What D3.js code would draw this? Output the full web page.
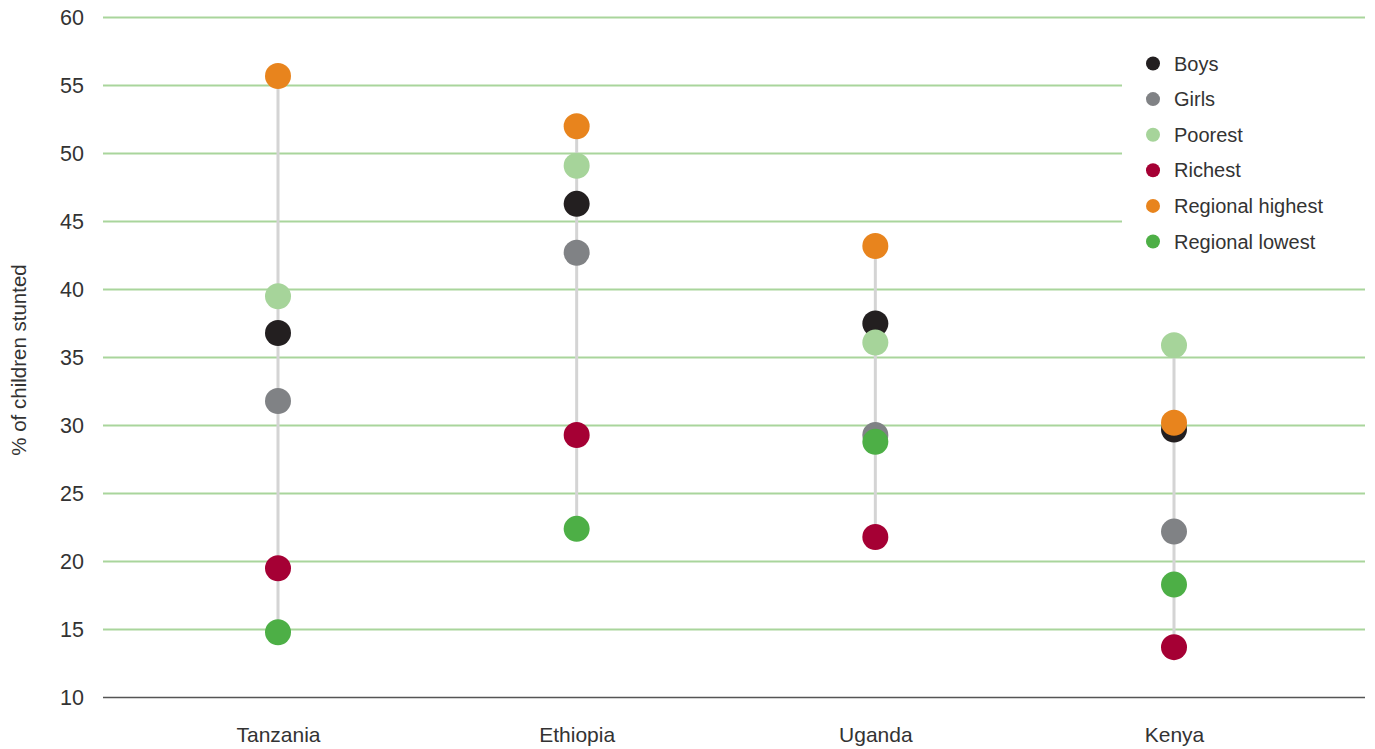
<!DOCTYPE html>
<html><head><meta charset="utf-8">
<script src="https://cdn.jsdelivr.net/npm/d3@7"></script>
<style>
body{margin:0;background:#fff;}
text{font-family:"Liberation Sans",Arial,sans-serif;fill:#333;}
</style></head>
<body><svg id="c" width="1375" height="749"></svg>
<script>
const countries = ["Tanzania","Ethiopia","Uganda","Kenya"];
const seriesNames = ["Boys","Girls","Poorest","Richest","Regional highest","Regional lowest"];
const seriesColors = ["#231f20","#808285","#a6d49a","#a50034","#e8841d","#4daf46"];
const boys = [36.8, 46.3, 37.5, 29.7];
const girls = [31.8, 42.7, 29.3, 22.2];
const poorest = [39.5, 49.1, 36.1, 35.9];
const richest = [19.5, 29.3, 21.8, 13.7];
const regionalHighest = [55.7, 52.0, 43.2, 30.2];
const regionalLowest = [14.8, 22.4, 28.8, 18.3];
const yTicks = [10,15,20,25,30,35,40,45,50,55,60];
const yTitle = "% of children stunted";

(function(){
const seriesValues = [boys, girls, poorest, richest, regionalHighest, regionalLowest];
const svg = d3.select("#c");
const L = 103, R = 1365, T = 17.5, B = 697.5;
const y = d3.scaleLinear().domain([10,60]).range([B, T]);
const x = d3.scalePoint().domain(countries).range([278, 1174]);
const FF = "Liberation Sans, Arial, sans-serif";

svg.append("g").selectAll("line").data(yTicks.filter(t=>t>10)).join("line")
  .attr("x1", L).attr("x2", R)
  .attr("y1", d=>y(d)).attr("y2", d=>y(d))
  .attr("stroke", "#a9d59c").attr("stroke-width", 2);

svg.append("line").attr("x1", L).attr("x2", R)
  .attr("y1", y(10)).attr("y2", y(10)).attr("stroke", "#555").attr("stroke-width", 1.5);

const yAxis = d3.axisLeft(y).tickValues(yTicks).tickSize(0).tickPadding(0);
const ga = svg.append("g").attr("transform", `translate(84,0.5)`).call(yAxis);
ga.select(".domain").remove();
ga.selectAll("text").style("font-size","21.5px").style("font-family",FF).attr("fill","#333");

svg.append("text").attr("transform", `translate(26,${360}) rotate(-90)`)
  .attr("text-anchor","middle").style("font-size","20.5px").text(yTitle);

const xAxis = d3.axisBottom(x).tickSize(0).tickPadding(0);
const gx = svg.append("g").attr("transform", `translate(0,${y(10)+30})`).call(xAxis);
gx.select(".domain").remove();
gx.selectAll("text").style("font-size","21px").style("font-family",FF).attr("fill","#333");

svg.append("rect").attr("x", 1122).attr("y", 40).attr("width", 243).attr("height", 220).attr("fill","#fff");

countries.forEach((c,i)=>{
  const vals = seriesValues.map(s=>s[i]);
  svg.append("line").attr("x1", x(c)).attr("x2", x(c))
    .attr("y1", y(d3.max(vals))).attr("y2", y(d3.min(vals)))
    .attr("stroke", "#d4d4d4").attr("stroke-width", 3);
});

seriesValues.forEach((s,k)=>{
  svg.append("g").selectAll("circle").data(s).join("circle")
    .attr("cx", (d,i)=>x(countries[i])).attr("cy", d=>y(d))
    .attr("r", 13).attr("fill", seriesColors[k]);
});

const lg = svg.append("g").attr("transform","translate(1153,63.5)");
seriesNames.forEach((n,k)=>{
  lg.append("circle").attr("cx",0).attr("cy",k*35.6).attr("r",7).attr("fill",seriesColors[k]);
  lg.append("text").attr("x",21).attr("y",k*35.6).attr("dy","0.35em").style("font-size","20px").text(n);
});
})();
</script></body></html>
